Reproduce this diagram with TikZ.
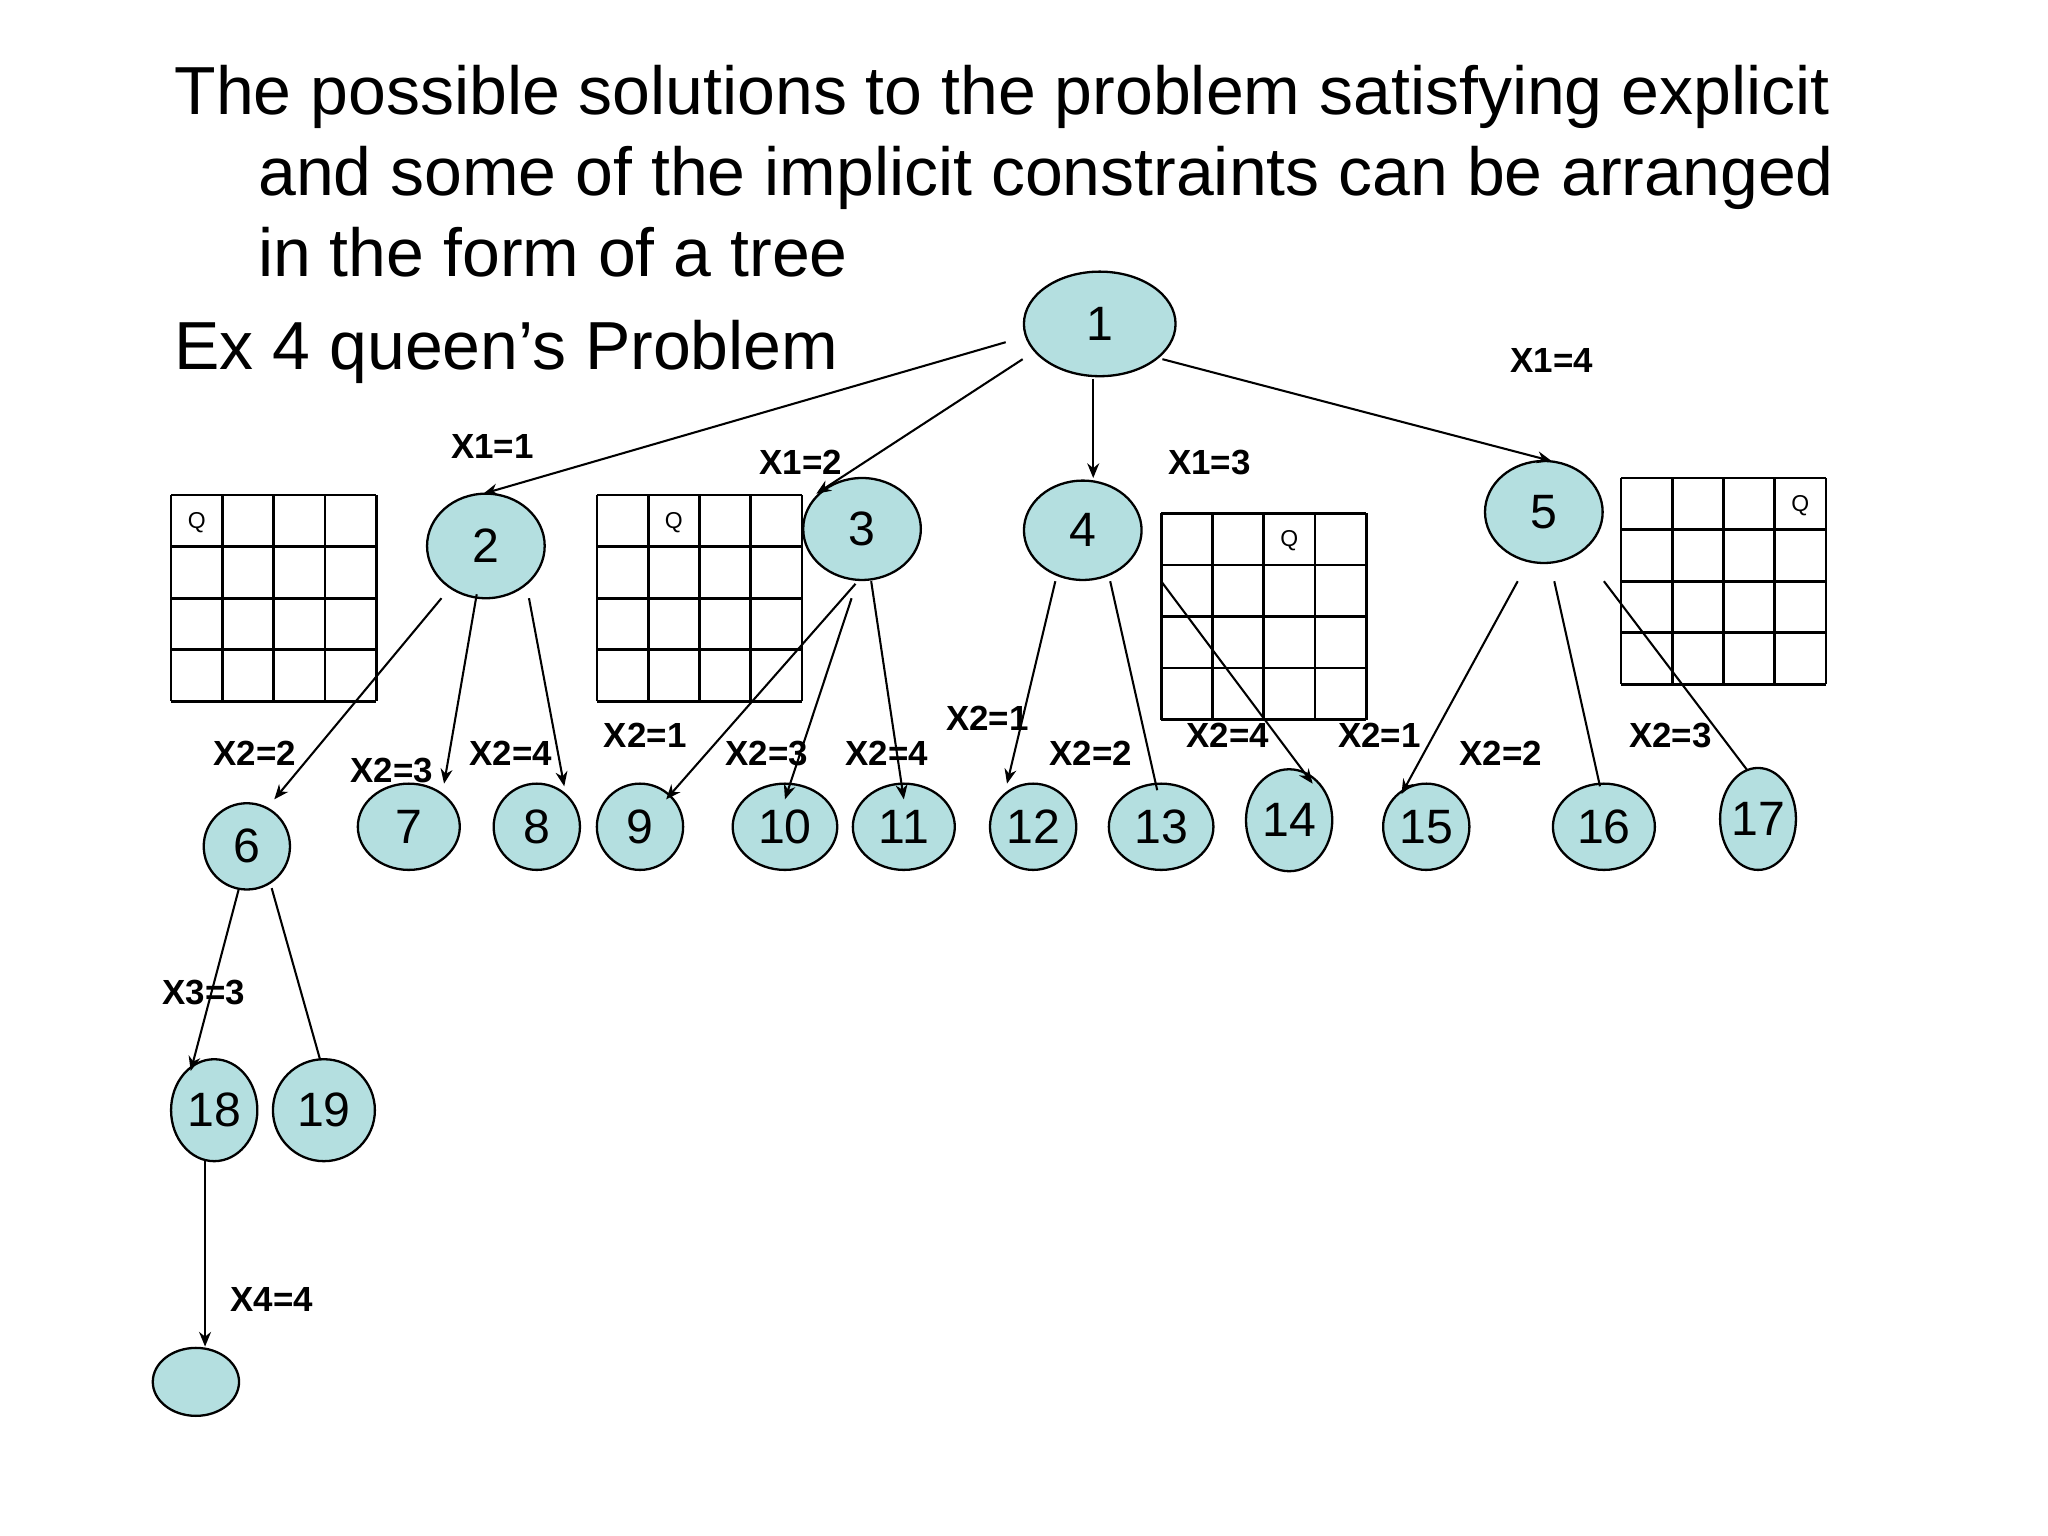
\documentclass[tikz,border=0pt]{standalone}
\usepackage{fontspec}
\setmainfont{Liberation Sans}
\usetikzlibrary{shapes.geometric,arrows.meta}
\definecolor{nodefill}{HTML}{B4DFE0}
\tikzset{
 nd/.style={ellipse,draw,fill=nodefill,line width=0.5pt,inner sep=0pt,font=\fontsize{10.5pt}{12pt}\selectfont},
 lb/.style={font=\bfseries\fontsize{7.6pt}{9pt}\selectfont},
 ar/.style={line width=0.45pt,-{Stealth[length=3.2pt,width=2.6pt]}},
 ln/.style={line width=0.45pt},
 tt/.style={anchor=base west,inner sep=0pt,font=\fontsize{14.8pt}{17pt}\selectfont}
}
\newcommand{\mynd}[6]{\node[nd,minimum width=#4*0.02cm,minimum height=#5*0.02cm] (#1) at (#2,#3) {#6};}
\newcommand{\myboard}[3]{%
 \foreach \i in {0,...,4}{\draw[line width=0.6pt] (#1,#2+\i*39.5) -- (#1+157,#2+\i*39.5);
  \draw[line width=0.6pt] (#1+\i*39.25,#2) -- (#1+\i*39.25,#2+158);}
 \node[font=\fontsize{5pt}{6pt}\selectfont] at (#1+#3*39.25-19.6,#2+21) {Q};}
\newcommand{\cn}[6]{\coordinate (#1a) at (#2,#3); \coordinate (#1b) at (#4,#5); \draw[#6] (#1a) -- (#1b);}
\begin{document}
\begin{tikzpicture}[x=0.01cm,y=-0.01cm]
\useasboundingbox (0,0) rectangle (1568,1176);
\node[tt] (t1) at (133,88) {The possible solutions to the problem satisfying explicit};
\node[tt] (t2) at (197,150) {and some of the implicit constraints can be arranged};
\node[tt] (t3) at (197,212) {in the form of a tree};
\node[tt] (t4) at (133,283) {Ex 4 queen’s Problem};
\myboard{131}{379}{1}
\myboard{457}{379}{2}
\myboard{889}{393}{3}
\myboard{1241}{366}{4}
\mynd{n1}{842}{248}{58}{40}{1}
\mynd{n2}{372}{418}{45}{40}{2}
\mynd{n3}{660}{405}{45}{39}{3}
\mynd{n4}{829}{406}{45}{38}{4}
\mynd{n5}{1182}{392}{45}{39}{5}
\mynd{n6}{189}{648}{33}{33}{6}
\mynd{n7}{313}{633}{39}{33}{7}
\mynd{n8}{411}{633}{33}{33}{8}
\mynd{n9}{490}{633}{33}{33}{9}
\mynd{n10}{601}{633}{40}{33}{10}
\mynd{n11}{692}{633}{39}{33}{11}
\mynd{n12}{791}{633}{33}{33}{12}
\mynd{n13}{889}{633}{40}{33}{13}
\mynd{n14}{987}{628}{33}{39}{14}
\mynd{n15}{1092}{633}{33}{33}{15}
\mynd{n16}{1228}{633}{39}{33}{16}
\mynd{n17}{1346}{627}{26}{39}{17}
\mynd{n18}{164}{850}{33}{39}{18}
\mynd{n19}{248}{850}{39}{39}{19}
\mynd{n20}{150}{1058}{33}{26}{}
\cn{e1}{770}{262}{370}{378}{ar}
\cn{e2}{783}{275}{625}{378}{ar}
\cn{e3}{837}{290}{837}{366}{ar}
\cn{e4}{890}{275}{1188}{353}{ar}
\cn{e5}{338}{458}{210}{612}{ar}
\cn{e6}{365}{455}{340}{600}{ar}
\cn{e7}{405}{458}{432}{602}{ar}
\cn{e8}{655}{447}{510}{612}{ar}
\cn{e9}{652}{458}{601}{612}{ar}
\cn{e10}{667}{445}{692}{612}{ar}
\cn{e11}{808}{445}{771}{600}{ar}
\cn{e12}{850}{445}{886}{605}{ln}
\cn{e13}{889}{445}{1005}{600}{ar}
\cn{e14}{1162}{445}{1073}{608}{ar}
\cn{e15}{1190}{445}{1225}{602}{ln}
\cn{e16}{1228}{445}{1338}{590}{ln}
\cn{e17}{183}{680}{146}{820}{ar}
\cn{e18}{208}{680}{245}{811}{ln}
\cn{e19}{157}{888}{157}{1031}{ar}
\node[lb] (l1) at (377,342) {X1=1};
\node[lb] (l2) at (613,354) {X1=2};
\node[lb] (l3) at (926,354) {X1=3};
\node[lb] (l4) at (1188,276) {X1=4};
\node[lb] (l5) at (195,577) {X2=2};
\node[lb] (l6) at (300,590) {X2=3};
\node[lb] (l7) at (391,577) {X2=4};
\node[lb] (l8) at (494,563) {X2=1};
\node[lb] (l9) at (587,577) {X2=3};
\node[lb] (l10) at (679,577) {X2=4};
\node[lb] (l11) at (756,550) {X2=1};
\node[lb] (l12) at (835,577) {X2=2};
\node[lb] (l13) at (940,563) {X2=4};
\node[lb] (l14) at (1056,563) {X2=1};
\node[lb] (l15) at (1149,577) {X2=2};
\node[lb] (l16) at (1279,563) {X2=3};
\node[lb] (l17) at (156,760) {X3=3};
\node[lb] (l18) at (208,995) {X4=4};
\end{tikzpicture}
\end{document}
